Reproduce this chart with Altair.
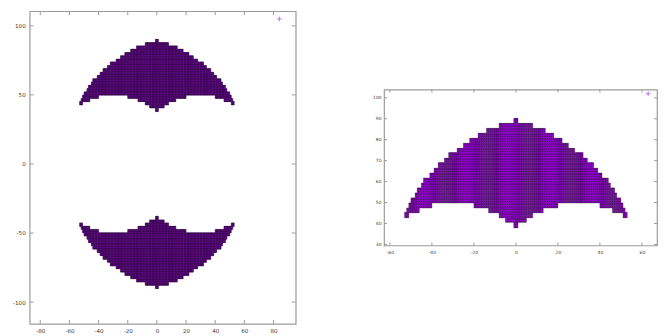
import math
import altair as alt
import pandas as pd

# ---- shape (top lobe; |x| ranges and edge heights) ----
upper_edges = [0, 1, 8, 14, 18, 22, 25, 28, 32, 34, 37, 39, 41, 44, 45, 47, 48, 50, 51, 52, 53]
upper_y = [90.2, 87.8, 85.4, 83.1, 80.7, 78.3, 75.9, 73.9, 71.2, 69.1, 66.4, 64.1,
           61.7, 59.3, 57.0, 54.6, 52.2, 49.8, 47.4, 45.4]
lower_edges = [0, 1, 5, 8, 13, 20, 40, 46, 51, 53]
lower_y = [37.9, 40.6, 42.7, 45.1, 47.4, 49.8, 47.4, 45.1, 42.7]

# key sample points ("+")
plus_left = {"x": [84], "y": [105]}
plus_right = {"x": [63], "y": [102]}

# tick labels
left_xticks = [-80, -60, -40, -20, 0, 20, 40, 60, 80]
left_yticks = [-100, -50, 0, 50, 100]
right_xticks = [-60, -40, -20, 0, 20, 40, 60]
right_yticks = [30, 40, 50, 60, 70, 80, 90, 100]

FILL = "#9400D3"
EDGE = "#1c0029"
BORDER = "#9c9c9c"
LABEL = "#3a3a3a"
CELL_H = 1.2


def lookup(edges, vals, i):
    for j in range(len(vals)):
        if edges[j] <= i < edges[j + 1]:
            return vals[j]
    return vals[-1]


def cells(sign):
    rows = []
    for col in range(-53, 53):
        i = col if col >= 0 else -col - 1
        top = lookup(upper_edges, upper_y, i)
        low = lookup(lower_edges, lower_y, i)
        k = math.floor(low / CELL_H)
        while k * CELL_H < top:
            y0 = max(low, k * CELL_H)
            y1 = min(top, (k + 1) * CELL_H)
            if y1 - y0 > 0.1:
                a, b = sign * y0, sign * y1
                rows.append({"x0": col, "x1": col + 1, "y0": min(a, b), "y1": max(a, b)})
            k += 1
    return rows


left_df = pd.DataFrame(cells(1) + cells(-1))
right_df = pd.DataFrame(cells(1))


def panel(df, xdom, ydom, xt, yt, plus, w, h, fs, lpx, lpy, tick, sw):
    xs = alt.Scale(domain=xdom, nice=False, zero=False)
    ys = alt.Scale(domain=ydom, nice=False, zero=False)
    common = dict(ticks=False, domain=False, grid=False, labelFontSize=fs,
                  labelColor=LABEL, labelFont="DejaVu Sans", title=None,
                  labelOverlap=False, labelExpr="'' + datum.value")
    ax = alt.Axis(values=xt, labelPadding=lpx, **common)
    ay = alt.Axis(values=yt, labelPadding=lpy, **common)
    body = alt.Chart(df).mark_rect(fill=FILL, stroke=EDGE, strokeWidth=sw).encode(
        x=alt.X("x0:Q", scale=xs, axis=ax), x2="x1:Q",
        y=alt.Y("y0:Q", scale=ys, axis=ay), y2="y1:Q")
    xtd = pd.DataFrame({"t": xt})
    ytd = pd.DataFrame({"t": yt})
    tb = alt.Chart(xtd).mark_rule(color=BORDER, strokeWidth=1).encode(
        x=alt.X("t:Q", scale=xs, axis=ax), y=alt.value(h), y2=alt.value(h - tick))
    tt = alt.Chart(xtd).mark_rule(color=BORDER, strokeWidth=1).encode(
        x=alt.X("t:Q", scale=xs, axis=ax), y=alt.value(0), y2=alt.value(tick))
    tl = alt.Chart(ytd).mark_rule(color=BORDER, strokeWidth=1).encode(
        y=alt.Y("t:Q", scale=ys, axis=ay), x=alt.value(0), x2=alt.value(tick))
    tr = alt.Chart(ytd).mark_rule(color=BORDER, strokeWidth=1).encode(
        y=alt.Y("t:Q", scale=ys, axis=ay), x=alt.value(w), x2=alt.value(w - tick))
    pl = alt.Chart(pd.DataFrame(plus)).mark_point(
        shape="M-1,0L1,0M0,-1L0,1", filled=False, color="#a238e0", size=22, strokeWidth=1
    ).encode(x=alt.X("x:Q", scale=xs, axis=ax), y=alt.Y("y:Q", scale=ys, axis=ay))
    return alt.layer(body, tb, tt, tl, tr, pl).properties(width=w, height=h)


left = panel(left_df, [-87.3, 95.2], [-115.8, 110.6], left_xticks, left_yticks,
             plus_left, 268, 315, 5.6, 5, 4.5, 4, 0.5)
right = panel(right_df, [-62.8, 67.2], [29.5, 103.9], right_xticks, right_yticks,
              plus_right, 275, 157, 4.5, 4, 3, 3, 0.35)

spacer = alt.Chart(pd.DataFrame({"v": [0]})).mark_rule(strokeWidth=0.1, opacity=0).encode(
    x=alt.value(0), y=alt.value(0), y2=alt.value(1)
).properties(width=1, height=75.5, view=alt.ViewBackground(stroke="transparent"))

right_col = alt.vconcat(spacer, right, spacing=0)

chart = alt.hconcat(left, right_col, spacing=74).properties(
    padding={"left": 3.8, "top": 0, "right": 0, "bottom": 0}
).configure_view(stroke=BORDER, strokeWidth=1.2)

chart.save("out.html", embed_options={"renderer": "svg", "actions": False})
